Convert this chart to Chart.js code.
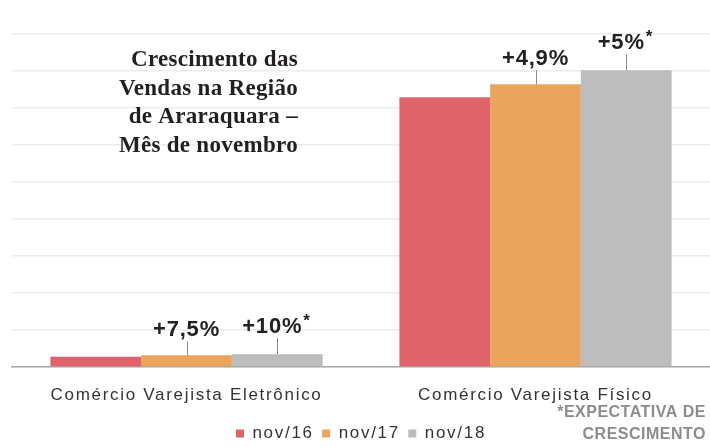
<!DOCTYPE html>
<html>
<head>
<meta charset="utf-8">
<script src="https://cdn.jsdelivr.net/npm/chart.js@4/dist/chart.umd.min.js"></script>
<style>
  html, body { margin: 0; padding: 0; background: #fff; }
  #chart { display: block; }
</style>
</head>
<body>
<canvas id="chart" width="710" height="447"></canvas>
<script>
const categories = ['Comércio Varejista Eletrônico', 'Comércio Varejista Físico'];
const seriesNames = ['nov/16', 'nov/17', 'nov/18'];
const nov16 = [2.75, 72.9];
const nov17 = [3.15, 76.4];
const nov18 = [3.45, 80.2];
const growth17 = ['+7,5%', '+4,9%'];
const growth18 = ['+10%', '+5%'];
const titleLines = ['Crescimento das', 'Vendas na Região', 'de Araraquara –', 'Mês de novembro'];
const footnoteLines = ['*EXPECTATIVA DE', 'CRESCIMENTO'];

const colors = ['#e0636b', '#e9a55b', '#bdbdbd'];

// spacing used by the ticks and legend text
const spacingPlugin = {
    id: 'spacing',
    beforeLayout(chart) { chart.ctx.letterSpacing = '1.7px'; },
    beforeDraw(chart) { chart.ctx.letterSpacing = '1.7px'; }
};

const labelsPlugin = {
    id: 'extraText',
    afterDatasetsDraw(chart) {
        const ctx = chart.ctx;
        ctx.save();
        ctx.letterSpacing = '0.8px';
        ctx.fillStyle = '#222';
        ctx.strokeStyle = '#8a8a8a';
        ctx.lineWidth = 1;
        ctx.textBaseline = 'alphabetic';
        ctx.font = 'bold 22px "Liberation Sans", Arial, sans-serif';

        const m17 = chart.getDatasetMeta(1).data;
        const m18 = chart.getDatasetMeta(2).data;

        m17.forEach(function(bar, i) {
            ctx.beginPath();
            ctx.moveTo(Math.round(bar.x) + 0.5, bar.y);
            ctx.lineTo(Math.round(bar.x) + 0.5, bar.y - 14);
            ctx.stroke();
            ctx.textAlign = 'center';
            ctx.fillText(growth17[i], bar.x, bar.y - 19);
        });

        m18.forEach(function(bar, i) {
            ctx.beginPath();
            ctx.moveTo(Math.round(bar.x) + 0.5, bar.y);
            ctx.lineTo(Math.round(bar.x) + 0.5, bar.y - 16);
            ctx.stroke();
            ctx.font = 'bold 22px "Liberation Sans", Arial, sans-serif';
            ctx.textAlign = 'center';
            const cx = bar.x - 5;
            const by = bar.y - 21;
            ctx.fillText(growth18[i], cx, by);
            const w = ctx.measureText(growth18[i]).width;
            ctx.textAlign = 'left';
            ctx.font = 'bold 17px "Liberation Sans", Arial, sans-serif';
            ctx.fillText('*', cx + w / 2 + 1, by - 7);
        });

        // title
        ctx.letterSpacing = '0.3px';
        ctx.font = 'bold 23px "Liberation Serif", "Times New Roman", serif';
        ctx.fillStyle = '#231f20';
        ctx.textAlign = 'right';
        titleLines.forEach(function(line, i) {
            ctx.fillText(line, 298, 66 + i * 28.7);
        });

        // footnote
        ctx.letterSpacing = '0.5px';
        ctx.font = 'bold 16px "Liberation Sans", Arial, sans-serif';
        ctx.fillStyle = '#8c8c8c';
        ctx.textAlign = 'right';
        footnoteLines.forEach(function(line, i) {
            ctx.fillText(line, 706, 417 + i * 22);
        });
        ctx.restore();
    }
};

new Chart(document.getElementById('chart'), {
    type: 'bar',
    data: {
        labels: categories,
        datasets: [
            { label: seriesNames[0], data: nov16, backgroundColor: colors[0] },
            { label: seriesNames[1], data: nov17, backgroundColor: colors[1] },
            { label: seriesNames[2], data: nov18, backgroundColor: colors[2] }
        ]
    },
    options: {
        responsive: false,
        animation: false,
        devicePixelRatio: 1,
        datasets: {
            bar: { barPercentage: 1, categoryPercentage: 0.78 }
        },
        layout: {
            padding: { left: 12, right: 0, top: 34, bottom: -5 }
        },
        scales: {
            x: {
                grid: { display: false, drawTicks: false },
                border: { display: true, color: '#a8a8a8', width: 1.5 },
                ticks: {
                    color: '#333',
                    padding: 27.6,
                    font: { family: '"Liberation Sans", Arial, sans-serif', size: 17, lineHeight: 0.05 }
                }
            },
            y: {
                min: 0,
                max: 90,
                ticks: { display: false, stepSize: 10 },
                grid: { color: '#ececec', lineWidth: 1.5, drawTicks: false },
                border: { display: false }
            }
        },
        plugins: {
            legend: {
                position: 'bottom',
                labels: {
                    boxWidth: 8,
                    boxHeight: 8,
                    padding: 2,
                    color: '#333',
                    font: { family: '"Liberation Sans", Arial, sans-serif', size: 17 },
                    generateLabels: function(chart) {
                        const items = Chart.defaults.plugins.legend.labels.generateLabels(chart);
                        items.forEach(function(item, i) {
                            if (i < items.length - 1) item.text = item.text + ' ';
                        });
                        return items;
                    }
                }
            },
            tooltip: { enabled: false }
        }
    },
    plugins: [spacingPlugin, labelsPlugin]
});
</script>
</body>
</html>
